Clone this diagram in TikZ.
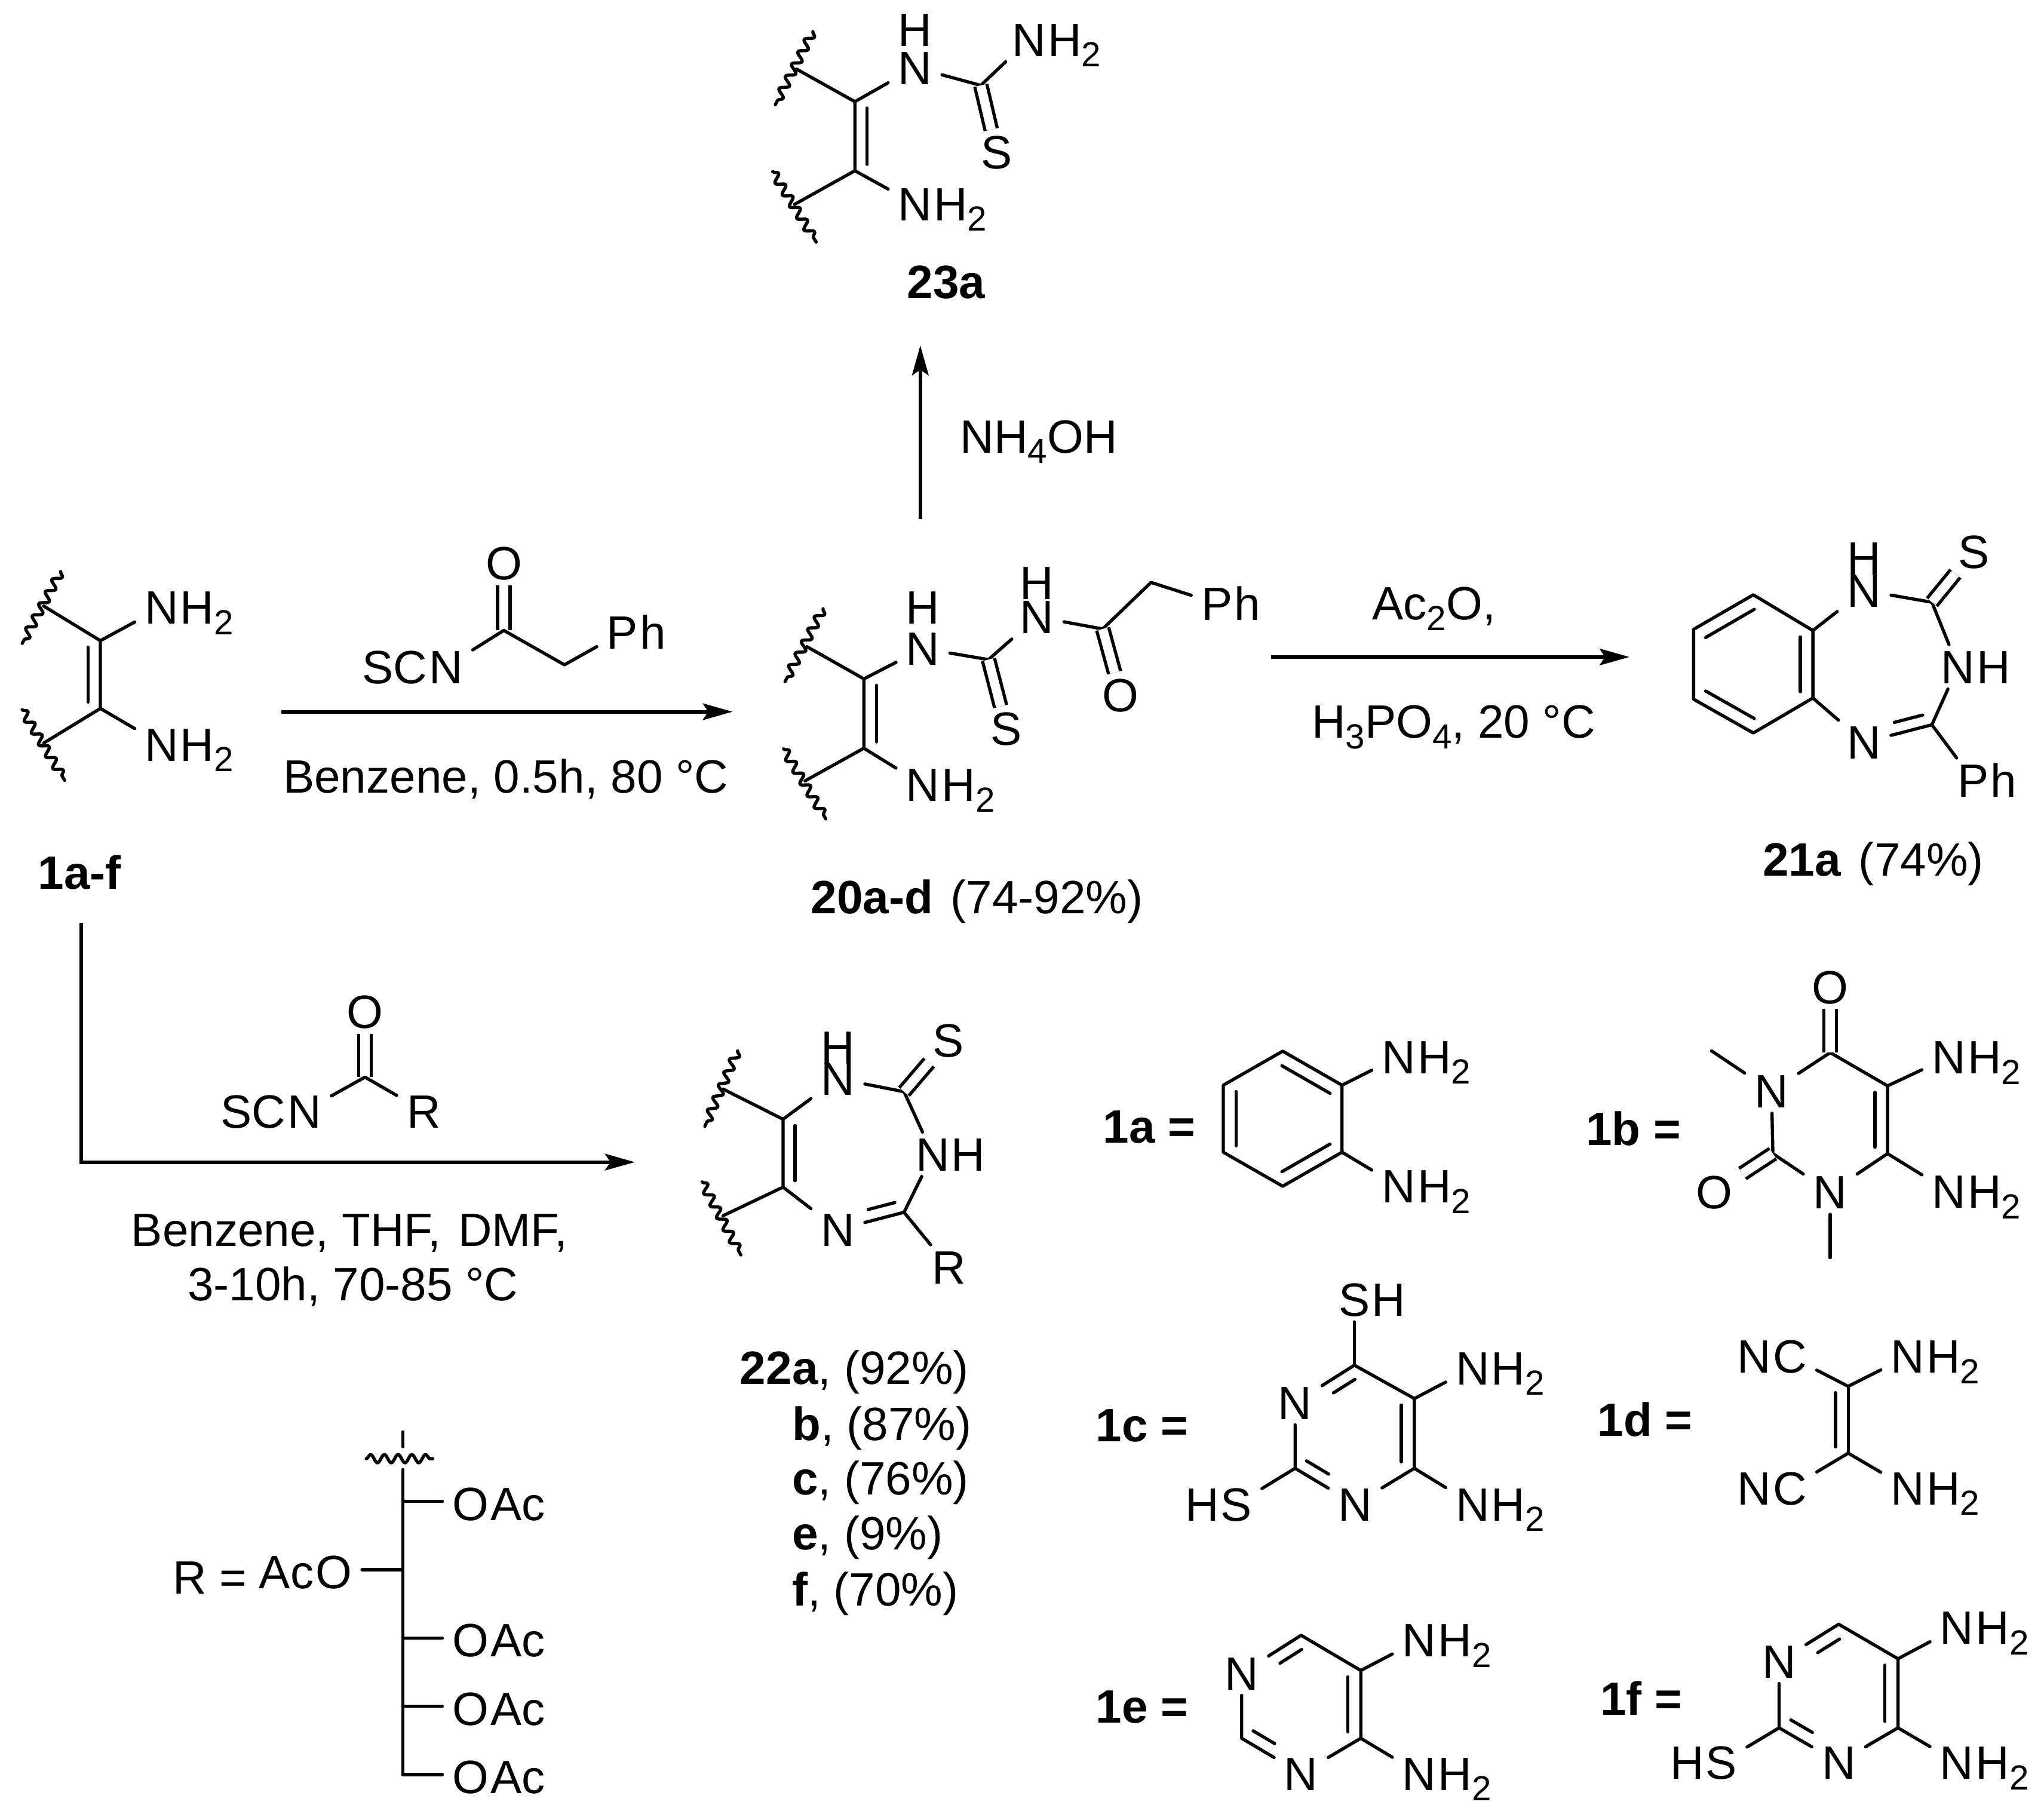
\documentclass[tikz,border=0pt]{standalone}
\usepackage{fontspec}
\setmainfont{Liberation Sans}
\usetikzlibrary{arrows.meta,positioning,decorations.pathmorphing}
\newcommand{\sbs}[1]{\raisebox{-2.3pt}{\fontsize{7.6}{8}\selectfont #1}}

\begin{document}
\begin{tikzpicture}[x=0.01cm,y=-0.01cm,node distance=-2pt]
	\tikzstyle{txt}=[inner sep=0pt,text height=7.3pt,text depth=0pt,font=\fontsize{10.2}{12}\selectfont]
	\tikzstyle{atom}=[txt,inner xsep=2pt,inner ysep=1pt]
	\tikzstyle{bond}=[line width=0.7pt,line cap=round,line join=round]
	\tikzstyle{dbond}=[line width=0.7pt,double,double distance=2pt]
	\tikzstyle{wavy}=[bond,decorate,decoration={snake,amplitude=0.9pt,segment length=3pt}]
	\tikzstyle{rxn}=[line width=0.8pt,-{Stealth[length=6.5pt,width=3.6pt,inset=1.2pt]}]
	\tikzset{ibond/.style 2 args={bond,shorten <=1.4pt,shorten >=1.4pt,transform canvas={shift={(#1,#2)}}}}

	\useasboundingbox (0,0) rectangle (1568,1393.9);

	\coordinate (m1ua) at (46.6,438.5);
	\coordinate (m1ub) at (17,493.6);
	\coordinate (m1la) at (17,544.5);
	\coordinate (m1lb) at (49.6,598.6);
	\coordinate (m1u) at (33.6,465);
	\coordinate (m1l) at (33.6,570);
	\coordinate (m1a) at (77,491.5);
	\coordinate (m1b) at (77,543.5);
	\node[atom] (m1n1) at (124,466) {N};
	\node[txt,right=of m1n1] (m1h1) {H\sbs{2}};
	\node[atom] (m1n2) at (124,571) {N};
	\node[txt,right=of m1n2] (m1h2) {H\sbs{2}};
	\draw[wavy] (m1ua) -- (m1ub);
	\draw[wavy] (m1la) -- (m1lb);
	\draw[bond] (m1u) -- (m1a) -- (m1b) -- (m1l);
	\draw[ibond={-9.5}{0}] (m1a) -- (m1b);
	\draw[bond] (m1a) -- (m1n1);
	\draw[bond] (m1b) -- (m1n2);
	\node[txt,font=\fontsize{10.2}{12}\selectfont\bfseries] (m1name) at (61,669) {1a-f};

	\node[atom] (ra1o) at (386.5,432) {O};
	\coordinate (ra1c) at (386.5,483.6);
	\coordinate (ra1m) at (433,510);
	\node[atom] (ra1n) at (342,511.5) {N};
	\node[txt,left=of ra1n] (ra1s) {SC};
	\node[atom] (ra1p) at (477.5,485) {P};
	\node[txt,right=of ra1p] (ra1h) {h};
	\draw[dbond] (ra1c) -- (ra1o);
	\draw[bond] (ra1n) -- (ra1c) -- (ra1m) -- (ra1p);
	\coordinate (ar1s) at (216,546);
	\coordinate (ar1e) at (562,546);
	\draw[rxn] (ar1s) -- (ar1e);
	\node[txt] (ra1t) at (388,595.5) {Benzene, 0.5h, 80 °C};

	\coordinate (ar2s) at (62.3,708);
	\coordinate (ar2e) at (487,891.5);
	\draw[rxn] (ar2s) |- (ar2e);
	\node[atom] (ra2o) at (280,776) {O};
	\coordinate (ra2c) at (280,826.3);
	\node[atom] (ra2n) at (233.5,852.3) {N};
	\node[txt,left=of ra2n] (ra2s) {SC};
	\node[atom] (ra2r) at (325,852.3) {R};
	\draw[dbond] (ra2c) -- (ra2o);
	\draw[bond] (ra2n) -- (ra2c) -- (ra2r);
	\node[txt] (ra2t) at (268,943.3) {Benzene, THF,\hspace{1pt} DMF,};
	\node[txt] (ra2u) at (270.7,985) {3-10h, 70-85 °C};

	\coordinate (ar3s) at (706,398);
	\coordinate (ar3e) at (706,265);
	\draw[rxn] (ar3s) -- (ar3e);
	\node[txt] (ra3t) at (797,334.5) {NH\sbs{4}OH};

	\coordinate (ar4s) at (975,504);
	\coordinate (ar4e) at (1250,504);
	\draw[rxn] (ar4s) -- (ar4e);
	\node[txt] (ra4t) at (1100,462.5) {Ac\sbs{2}O,};
	\node[txt] (ra4u) at (1115,553.5) {H\sbs{3}PO\sbs{4}, 20 °C};

	\coordinate (c23ua) at (623.6,24.2);
	\coordinate (c23ub) at (594.8,80.3);
	\coordinate (c23la) at (592.8,131.7);
	\coordinate (c23lb) at (626.1,185.7);
	\coordinate (c23u) at (611,53);
	\coordinate (c23l) at (609.5,156.8);
	\coordinate (c23a) at (655.8,78);
	\coordinate (c23b) at (655.8,131);
	\coordinate (c23c) at (752.4,65.5);
	\node[atom] (c23n1) at (702,51.8) {N};
	\node[atom] (c23h1) at (702,22.6) {H};
	\node[atom] (c23n2) at (789.4,30.4) {N};
	\node[txt,right=of c23n2] (c23h2) {H\sbs{2}};
	\node[atom] (c23s) at (764.4,116.5) {S};
	\node[atom] (c23n3) at (702,156.4) {N};
	\node[txt,right=of c23n3] (c23h3) {H\sbs{2}};
	\draw[wavy] (c23ua) -- (c23ub);
	\draw[wavy] (c23la) -- (c23lb);
	\draw[bond] (c23u) -- (c23a) -- (c23b) -- (c23l);
	\draw[ibond={9.4}{0}] (c23a) -- (c23b);
	\draw[bond] (c23a) -- (c23n1);
	\draw[bond] (c23n1) -- (c23c) -- (c23n2);
	\draw[dbond] (c23c) -- (c23s);
	\draw[bond] (c23b) -- (c23n3);
	\node[txt] (c23name) at (726,216) {\textbf{23a}};

	\coordinate (c20ua) at (631.4,467);
	\coordinate (c20ub) at (602.2,522.9);
	\coordinate (c20la) at (601.1,574.5);
	\coordinate (c20lb) at (633.5,628.2);
	\coordinate (c20u) at (618.9,496);
	\coordinate (c20l) at (617.6,599);
	\coordinate (c20a) at (662.7,520.8);
	\coordinate (c20b) at (662.7,574);
	\coordinate (c20c) at (758.3,506);
	\coordinate (c20d) at (845.9,482.5);
	\coordinate (c20m) at (883,446.8);
	\node[atom] (c20n1) at (708,497.5) {N};
	\node[atom] (c20h1) at (708,465.6) {H};
	\node[atom] (c20n2) at (795.5,473.2) {N};
	\node[atom] (c20h2) at (795.5,447) {H};
	\node[atom] (c20s) at (772,559) {S};
	\node[atom] (c20o) at (859.7,533) {O};
	\node[atom] (c20p) at (933.5,463) {P};
	\node[txt,right=of c20p] (c20ph) {h};
	\node[atom] (c20n3) at (708,602) {N};
	\node[txt,right=of c20n3] (c20h3) {H\sbs{2}};
	\draw[wavy] (c20ua) -- (c20ub);
	\draw[wavy] (c20la) -- (c20lb);
	\draw[bond] (c20u) -- (c20a) -- (c20b) -- (c20l);
	\draw[ibond={9.6}{0}] (c20a) -- (c20b);
	\draw[bond] (c20a) -- (c20n1);
	\draw[bond] (c20n1) -- (c20c) -- (c20n2);
	\draw[dbond] (c20c) -- (c20s);
	\draw[bond] (c20n2) -- (c20d) -- (c20m) -- (c20p);
	\draw[dbond] (c20d) -- (c20o);
	\draw[bond] (c20b) -- (c20n3);
	\node[txt] (c20name) at (749.5,688) {\textbf{20a-d}\hspace{1pt} (74-92\%)};

	\coordinate (c21a) at (1345,456.3);
	\coordinate (c21b) at (1390.7,483.7);
	\coordinate (c21c) at (1390.7,535.5);
	\coordinate (c21d) at (1345,562.3);
	\coordinate (c21e) at (1299.2,536.4);
	\coordinate (c21f) at (1299.2,482.8);
	\coordinate (c21g) at (1482,462);
	\coordinate (c21k) at (1482,556);
	\node[atom] (c21n1) at (1430,453) {N};
	\node[atom] (c21h1) at (1430,428) {H};
	\node[atom] (c21s) at (1514,423) {S};
	\node[atom] (c21n2) at (1502,511.5) {N};
	\node[txt,right=of c21n2] (c21h2) {H};
	\node[atom] (c21n3) at (1430,569.5) {N};
	\node[atom] (c21p) at (1513.7,598.5) {P};
	\node[txt,right=of c21p] (c21ph) {h};
	\draw[bond] (c21a) -- (c21b) -- (c21c) -- (c21d) -- (c21e) -- (c21f) -- cycle;
	\draw[ibond={-9.6}{0}] (c21b) -- (c21c);
	\draw[ibond={5}{8.7}] (c21f) -- (c21a);
	\draw[ibond={5}{-8.7}] (c21e) -- (c21d);
	\draw[bond] (c21b) -- (c21n1) -- (c21g) -- (c21n2) -- (c21k) -- (c21n3) -- (c21c);
	\draw[ibond={-2.3}{-8.7}] (c21n3) -- (c21k);
	\draw[dbond] (c21g) -- (c21s);
	\draw[bond] (c21k) -- (c21p);
	\node[txt] (c21name) at (1437,659) {\textbf{21a}\hspace{1pt} (74\%)};

	\coordinate (c22ua) at (565.8,806.2);
	\coordinate (c22ub) at (540.7,864.1);
	\coordinate (c22la) at (538.6,906.7);
	\coordinate (c22lb) at (568.3,962.7);
	\coordinate (c22u) at (554.7,835.5);
	\coordinate (c22l) at (554.7,932.6);
	\coordinate (c22a) at (600.7,858.6);
	\coordinate (c22b) at (600.7,910.7);
	\coordinate (c22c) at (693.5,837.5);
	\coordinate (c22k) at (693.5,930);
	\node[atom] (c22n1) at (642.8,827.5) {N};
	\node[atom] (c22h1) at (642.8,803.5) {H};
	\node[atom] (c22s) at (727.3,798) {S};
	\node[atom] (c22n2) at (715.5,885.5) {N};
	\node[txt,right=of c22n2] (c22h2) {H};
	\node[atom] (c22n3) at (642.8,943.2) {N};
	\node[atom] (c22r) at (727.9,972) {R};
	\draw[wavy] (c22ua) -- (c22ub);
	\draw[wavy] (c22la) -- (c22lb);
	\draw[bond] (c22u) -- (c22a) -- (c22b) -- (c22l);
	\draw[ibond={9.2}{0}] (c22a) -- (c22b);
	\draw[bond] (c22a) -- (c22n1) -- (c22c) -- (c22n2) -- (c22k) -- (c22n3) -- (c22b);
	\draw[ibond={-2.3}{-8.7}] (c22n3) -- (c22k);
	\draw[dbond] (c22c) -- (c22s);
	\draw[bond] (c22k) -- (c22r);
	\node[txt,anchor=west] (c22t1) at (567,1049) {\textbf{22a}, (92\%)};
	\node[txt,anchor=west] (c22t2) at (607,1092) {\textbf{b}, (87\%)};
	\node[txt,anchor=west] (c22t3) at (607,1134) {\textbf{c}, (76\%)};
	\node[txt,anchor=west] (c22t4) at (607,1176) {\textbf{e}, (9\%)};
	\node[txt,anchor=west] (c22t5) at (607,1219) {\textbf{f}, (70\%)};

	\coordinate (rtop) at (309,1098.4);
	\coordinate (rtopb) at (309,1109.8);
	\coordinate (rwa) at (281,1119);
	\coordinate (rwb) at (332,1119);
	\coordinate (rv0) at (309,1127.4);
	\coordinate (rv1) at (309,1151.7);
	\coordinate (rv2) at (309,1204.2);
	\coordinate (rv3) at (309,1256.6);
	\coordinate (rv4) at (309,1309);
	\coordinate (rv5) at (309,1361.4);
	\node[atom] (ro1) at (361,1153.5) {O};
	\node[txt,right=of ro1] (rac1) {Ac};
	\node[atom] (ro2) at (256,1205.8) {O};
	\node[txt,left=of ro2] (rac2) {Ac};
	\node[atom] (ro3) at (361,1258.1) {O};
	\node[txt,right=of ro3] (rac3) {Ac};
	\node[atom] (ro4) at (361,1310.5) {O};
	\node[txt,right=of ro4] (rac4) {Ac};
	\node[atom] (ro5) at (361,1363) {O};
	\node[txt,right=of ro5] (rac5) {Ac};
	\node[txt] (rlab) at (161,1209.7) {R =};
	\draw[bond] (rtop) -- (rtopb);
	\draw[wavy] (rwa) -- (rwb);
	\draw[bond] (rv0) -- (rv5);
	\draw[bond] (rv1) -- (rv1 -| ro1.west);
	\draw[bond] (rv2) -- (rv2 -| ro2.east);
	\draw[bond] (rv3) -- (rv3 -| ro3.west);
	\draw[bond] (rv4) -- (rv4 -| ro4.west);
	\draw[bond] (rv5) -- (rv5 -| ro5.west);

	\node[txt] (laba) at (881.5,864) {\textbf{1a =}};
	\coordinate (aa) at (984,806.4);
	\coordinate (ab) at (1029.5,832.5);
	\coordinate (ac) at (1029.5,883.9);
	\coordinate (ad) at (984,910);
	\coordinate (ae) at (938.4,883.9);
	\coordinate (af) at (938.4,832.5);
	\node[atom] (an1) at (1073,810.6) {N};
	\node[txt,right=of an1] (ah1) {H\sbs{2}};
	\node[atom] (an2) at (1073,910) {N};
	\node[txt,right=of an2] (ah2) {H\sbs{2}};
	\draw[bond] (aa) -- (ab) -- (ac) -- (ad) -- (ae) -- (af) -- cycle;
	\draw[ibond={10}{0}] (ae) -- (af);
	\draw[ibond={-4.9}{8.7}] (aa) -- (ab);
	\draw[ibond={-4.9}{-8.7}] (ac) -- (ad);
	\draw[bond] (ab) -- (an1);
	\draw[bond] (ac) -- (an2);

	\node[txt] (labb) at (1253,866) {\textbf{1b =}};
	\coordinate (bc4) at (1404,807.5);
	\coordinate (bc5) at (1448,833);
	\coordinate (bc6) at (1448,885);
	\coordinate (bc2) at (1360,885);
	\coordinate (bm1) at (1313,806.2);
	\coordinate (bm2) at (1404,964.8);
	\node[atom] (bo1) at (1404,757) {O};
	\node[atom] (bn3) at (1359,837) {N};
	\node[atom] (bn1) at (1404,914.5) {N};
	\node[atom] (bo2) at (1315,914.5) {O};
	\node[atom] (bn5) at (1495,811) {N};
	\node[txt,right=of bn5] (bh5) {H\sbs{2}};
	\node[atom] (bn6) at (1495,914) {N};
	\node[txt,right=of bn6] (bh6) {H\sbs{2}};
	\draw[bond] (bn3) -- (bc4) -- (bc5) -- (bc6) -- (bn1) -- (bc2) -- (bn3);
	\draw[ibond={-9.7}{0}] (bc5) -- (bc6);
	\draw[dbond] (bc4) -- (bo1);
	\draw[dbond] (bc2) -- (bo2);
	\draw[bond] (bn3) -- (bm1);
	\draw[bond] (bn1) -- (bm2);
	\draw[bond] (bc5) -- (bn5);
	\draw[bond] (bc6) -- (bn6);

	\node[txt] (labc) at (876,1093) {\textbf{1c =}};
	\coordinate (cc4) at (1039,1047.3);
	\coordinate (cc5) at (1085,1072.9);
	\coordinate (cc6) at (1085,1126.4);
	\coordinate (cc2) at (993.5,1126.4);
	\node[atom] (cs1) at (1039,997) {S};
	\node[txt,right=of cs1] (chs1) {H};
	\node[atom] (cn3) at (993.5,1076) {N};
	\node[atom] (cn1) at (1039.5,1153.9) {N};
	\node[atom] (cs2) at (948.4,1153.9) {S};
	\node[txt,left=of cs2] (chs2) {H};
	\node[atom] (cn5) at (1129.7,1049.4) {N};
	\node[txt,right=of cn5] (ch5) {H\sbs{2}};
	\node[atom] (cn6) at (1129.7,1153.9) {N};
	\node[txt,right=of cn6] (ch6) {H\sbs{2}};
	\draw[bond] (cn3) -- (cc4) -- (cc5) -- (cc6) -- (cn1) -- (cc2) -- (cn3);
	\draw[ibond={4.6}{8.2}] (cn3) -- (cc4);
	\draw[ibond={-10}{0}] (cc5) -- (cc6);
	\draw[ibond={4.6}{-8.2}] (cc2) -- (cn1);
	\draw[bond] (cc4) -- (cs1);
	\draw[bond] (cc2) -- (cs2);
	\draw[bond] (cc5) -- (cn5);
	\draw[bond] (cc6) -- (cn6);

	\node[txt] (labd) at (1262,1089) {\textbf{1d =}};
	\coordinate (dc1) at (1417.8,1063.5);
	\coordinate (dc2) at (1417.8,1114.8);
	\node[atom] (dc3) at (1373,1040.5) {C};
	\node[txt,left=of dc3] (dn3) {N};
	\node[atom] (dc4) at (1373,1141.5) {C};
	\node[txt,left=of dc4] (dn4) {N};
	\node[atom] (dn1) at (1463.5,1040.5) {N};
	\node[txt,right=of dn1] (dh1) {H\sbs{2}};
	\node[atom] (dn2) at (1463.5,1141.5) {N};
	\node[txt,right=of dn2] (dh2) {H\sbs{2}};
	\draw[bond] (dc1) -- (dc2);
	\draw[ibond={-9.8}{0}] (dc1) -- (dc2);
	\draw[bond] (dc3) -- (dc1) -- (dn1);
	\draw[bond] (dc4) -- (dc2) -- (dn2);

	\node[txt] (labe) at (876,1309) {\textbf{1e =}};
	\coordinate (ec1) at (998.1,1254.5);
	\coordinate (ec2) at (1043.9,1281.5);
	\coordinate (ec3) at (1043.9,1333.5);
	\coordinate (ec4) at (952.5,1333.5);
	\node[atom] (en1) at (952.5,1283.5) {N};
	\node[atom] (en2) at (998.1,1360.5) {N};
	\node[atom] (en5) at (1088.8,1258) {N};
	\node[txt,right=of en5] (eh5) {H\sbs{2}};
	\node[atom] (en6) at (1088.8,1360.5) {N};
	\node[txt,right=of en6] (eh6) {H\sbs{2}};
	\draw[bond] (en1) -- (ec1) -- (ec2) -- (ec3) -- (en2) -- (ec4) -- (en1);
	\draw[ibond={4.6}{8.2}] (en1) -- (ec1);
	\draw[ibond={-10}{0}] (ec2) -- (ec3);
	\draw[ibond={4.6}{-8.2}] (ec4) -- (en2);
	\draw[bond] (ec2) -- (en5);
	\draw[bond] (ec3) -- (en6);

	\node[txt] (labf) at (1259,1303) {\textbf{1f =}};
	\coordinate (fc1) at (1410.5,1246);
	\coordinate (fc2) at (1456,1272.5);
	\coordinate (fc3) at (1456,1325.5);
	\coordinate (fc4) at (1364.8,1325.5);
	\node[atom] (fn1) at (1364.8,1274.5) {N};
	\node[atom] (fn2) at (1410.5,1352) {N};
	\node[atom] (fs) at (1320.5,1352) {S};
	\node[txt,left=of fs] (fhs) {H};
	\node[atom] (fn5) at (1501.2,1248.5) {N};
	\node[txt,right=of fn5] (fh5) {H\sbs{2}};
	\node[atom] (fn6) at (1501.2,1352) {N};
	\node[txt,right=of fn6] (fh6) {H\sbs{2}};
	\draw[bond] (fn1) -- (fc1) -- (fc2) -- (fc3) -- (fn2) -- (fc4) -- (fn1);
	\draw[ibond={4.8}{8.8}] (fn1) -- (fc1);
	\draw[ibond={-10}{0}] (fc2) -- (fc3);
	\draw[ibond={4.8}{-8.5}] (fc4) -- (fn2);
	\draw[bond] (fc4) -- (fs);
	\draw[bond] (fc2) -- (fn5);
	\draw[bond] (fc3) -- (fn6);
\end{tikzpicture}
\end{document}
